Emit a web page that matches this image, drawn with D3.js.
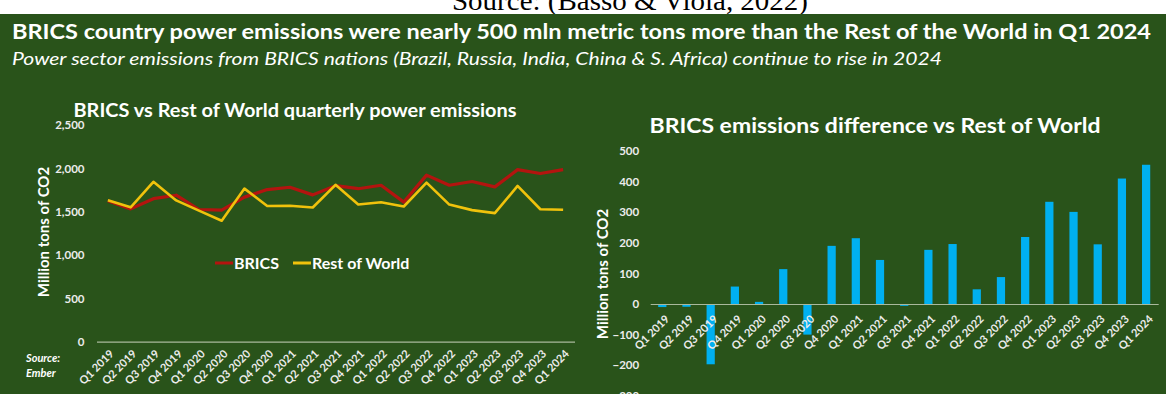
<!DOCTYPE html>
<html lang="en">
<head>
<meta charset="utf-8">
<title>BRICS vs Rest of World power emissions</title>
<script src="https://cdn.jsdelivr.net/npm/d3@7"></script>
<style>
  body { margin: 0; background: #ffffff; }
  svg { display: block; }
  text { font-family: Lato, "Open Sans", sans-serif; }
</style>
</head>
<body>
<svg id="chart" width="1166" height="394"></svg>
<script>
// quarterly values (million tons of CO2)
const quarters = [
  "Q1 2019", "Q2 2019", "Q3 2019", "Q4 2019",
  "Q1 2020", "Q2 2020", "Q3 2020", "Q4 2020",
  "Q1 2021", "Q2 2021", "Q3 2021", "Q4 2021",
  "Q1 2022", "Q2 2022", "Q3 2022", "Q4 2022",
  "Q1 2023", "Q2 2023", "Q3 2023", "Q4 2023",
  "Q1 2024"
];
const bricsEmissions = [1627, 1532, 1650, 1690, 1525, 1518, 1668, 1755, 1782, 1694, 1800, 1765, 1805, 1610, 1922, 1805, 1848, 1786, 1985, 1940, 1985];
const rowEmissions   = [1632, 1550, 1845, 1630, 1512, 1395, 1766, 1566, 1568, 1548, 1810, 1583, 1608, 1560, 1835, 1582, 1518, 1483, 1797, 1528, 1522];
const diffValues     = [-10, -9, -197, 57, 7, 114, -100, 190, 215, 144, -6, 177, 196, 48, 88, 219, 334, 301, 195, 410, 455];

const leftTicks = [0, 500, 1000, 1500, 2000, 2500];
const rightTicks = [-300, -200, -100, 0, 100, 200, 300, 400, 500];

const seriesNames = ["BRICS", "Rest of World"];
const seriesColors = ["#b3140f", "#f0c20c"];

const bg = "#29531a";
const tickColor = "#ececec";
const axisColor = "#a9b99c";

let svg = d3.select("#chart");

// background: white strip with the cut off citation, then the green slide
svg.append("rect").attr("x", 0).attr("y", 0).attr("width", 1166).attr("height", 394).style("fill", "#ffffff");
svg.append("clipPath").attr("id", "strip")
  .append("rect").attr("x", 0).attr("y", 0).attr("width", 1166).attr("height", 14);
svg.append("text")
  .attr("clip-path", "url(#strip)")
  .attr("x", 452).attr("y", 10)
  .attr("textLength", 356).attr("lengthAdjust", "spacingAndGlyphs")
  .style("font-family", "'Liberation Serif', 'Times New Roman', serif")
  .style("font-size", "27px")
  .style("fill", "#000")
  .text("Source: (Basso & Viola, 2022)");
svg.append("rect").attr("x", 0).attr("y", 14).attr("width", 1166).attr("height", 380).style("fill", bg);

svg.append("text")
  .attr("x", 12).attr("y", 39)
  .attr("textLength", 1139).attr("lengthAdjust", "spacingAndGlyphs")
  .style("font-size", "20px").style("font-weight", "bold").style("fill", "#ffffff")
  .text("BRICS country power emissions were nearly 500 mln metric tons more than the Rest of the World in Q1 2024");

svg.append("text")
  .attr("x", 12).attr("y", 65)
  .attr("textLength", 930).attr("lengthAdjust", "spacingAndGlyphs")
  .style("font-size", "17px").style("font-style", "italic").style("fill", "#ffffff")
  .text("Power sector emissions from BRICS nations (Brazil, Russia, India, China & S. Africa) continue to rise in 2024");

// ---------- left chart: lines ----------
let xL = d3.scaleBand().domain(quarters).range([96.5, 574.5]).padding(0);
let yL = d3.scaleLinear().domain([0, 2500]).range([341.7, 125]);
let cx = q => xL(q) + xL.bandwidth() / 2;

svg.append("text")
  .attr("x", 295).attr("y", 117)
  .attr("text-anchor", "middle")
  .attr("textLength", 443).attr("lengthAdjust", "spacingAndGlyphs")
  .style("font-size", "18px").style("font-weight", "bold").style("fill", "#ffffff")
  .text("BRICS vs Rest of World quarterly power emissions");

let gyL = svg.append("g")
  .attr("transform", `translate(${xL.range()[0]},0)`)
  .call(d3.axisLeft(yL).tickValues(leftTicks).tickSize(0).tickPadding(12).tickFormat(d3.format(",")));
gyL.select(".domain").remove();
gyL.selectAll("text")
  .style("font-family", "Lato, sans-serif").style("font-size", "11.5px").style("font-weight", "bold").style("fill", tickColor);

svg.append("text")
  .attr("transform", "translate(49,232) rotate(-90)")
  .attr("text-anchor", "middle")
  .style("font-size", "15px").style("font-weight", "bold").style("fill", "#ffffff")
  .text("Million tons of CO2");

let gxL = svg.append("g")
  .attr("transform", `translate(0,${yL(0)})`)
  .call(d3.axisBottom(xL).tickSize(0).tickSizeOuter(0).tickPadding(0));
gxL.select(".domain").attr("stroke", axisColor).attr("stroke-width", 1.2);
gxL.selectAll("text")
  .attr("y", 0).attr("dy", "0.35em")
  .attr("text-anchor", "end")
  .attr("transform", "translate(4,10) rotate(-45)")
  .style("font-family", "Lato, sans-serif").style("font-size", "11px").style("font-weight", "bold").style("fill", tickColor);

let line = d3.line()
  .x((d, i) => cx(quarters[i]))
  .y(d => yL(d))
  .curve(d3.curveLinear);

svg.append("g")
  .selectAll("path")
  .data([bricsEmissions, rowEmissions])
  .join("path")
  .attr("d", d => line(d))
  .style("fill", "none")
  .style("stroke", (d, i) => seriesColors[i])
  .style("stroke-width", (d, i) => i === 0 ? 3.2 : 2.6)
  .style("stroke-linejoin", "round");

// legend
let legendX = [215, 293];
let legend = svg.append("g").selectAll("g")
  .data(seriesNames)
  .join("g")
  .attr("transform", (d, i) => `translate(${legendX[i]},263)`);
legend.append("line")
  .attr("x1", 0).attr("x2", 18).attr("y1", 0).attr("y2", 0)
  .style("stroke", (d, i) => seriesColors[i]).style("stroke-width", 3);
legend.append("text")
  .attr("x", 19).attr("y", 5.5)
  .style("font-size", "16px").style("font-weight", "bold").style("fill", "#ffffff")
  .text(d => d);

svg.append("text").attr("x", 26).attr("y", 362)
  .style("font-size", "11px").style("font-weight", "bold").style("font-style", "italic").style("fill", "#ffffff")
  .text("Source:");
svg.append("text").attr("x", 26).attr("y", 377)
  .style("font-size", "11px").style("font-weight", "bold").style("font-style", "italic").style("fill", "#ffffff")
  .text("Ember");

// ---------- right chart: difference bars ----------
let xR = d3.scaleBand().domain(quarters).range([650.2, 1158.2]).padding(0);
let yR = d3.scaleLinear().domain([-300, 500]).range([395.8, 151]);
let barW = xR.bandwidth() * 0.34;

svg.append("text")
  .attr("x", 875).attr("y", 133)
  .attr("text-anchor", "middle")
  .attr("textLength", 451).attr("lengthAdjust", "spacingAndGlyphs")
  .style("font-size", "20px").style("font-weight", "bold").style("fill", "#ffffff")
  .text("BRICS emissions difference vs Rest of World");

let gyR = svg.append("g")
  .attr("transform", `translate(${xR.range()[0]},0)`)
  .call(d3.axisLeft(yR).tickValues(rightTicks).tickSize(0).tickPadding(11));
gyR.select(".domain").remove();
gyR.selectAll("text")
  .style("font-family", "Lato, sans-serif").style("font-size", "11.5px").style("font-weight", "bold").style("fill", tickColor);

svg.append("text")
  .attr("transform", "translate(608,274) rotate(-90)")
  .attr("text-anchor", "middle")
  .style("font-size", "15px").style("font-weight", "bold").style("fill", "#ffffff")
  .text("Million tons of CO2");

svg.append("g")
  .selectAll("rect")
  .data(diffValues)
  .join("rect")
  .attr("x", (d, i) => xR(quarters[i]) + (xR.bandwidth() - barW) / 2)
  .attr("y", d => yR(Math.max(0, d)))
  .attr("width", barW)
  .attr("height", d => Math.abs(yR(d) - yR(0)))
  .style("fill", "#00b0f0");

let gxR = svg.append("g")
  .attr("transform", `translate(0,${yR(0)})`)
  .call(d3.axisBottom(xR).tickSize(0).tickSizeOuter(0).tickPadding(0));
gxR.select(".domain").attr("stroke", axisColor).attr("stroke-width", 1.2);
gxR.selectAll("text")
  .attr("y", 0).attr("dy", "0.35em")
  .attr("text-anchor", "end")
  .attr("transform", "translate(5,13) rotate(-45)")
  .style("font-family", "Lato, sans-serif").style("font-size", "11px").style("font-weight", "bold").style("fill", tickColor);
</script>
</body>
</html>
